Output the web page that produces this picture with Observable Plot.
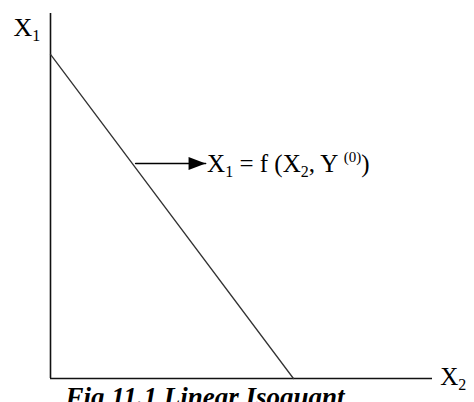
<!DOCTYPE html>
<html>
<head>
<meta charset="utf-8">
<script src="https://cdn.jsdelivr.net/npm/d3@7"></script>
<script src="https://cdn.jsdelivr.net/npm/@observablehq/plot@0.6"></script>
<style>
  html, body { margin: 0; padding: 0; background: #fff; }
  svg { display: block; }
</style>
</head>
<body>
<div id="chart"></div>
<script>
// Isoquant end points (X2 on horizontal axis, X1 on vertical axis)
const isoX2 = [0, 6.36];
const isoX1 = [8.88, 0];
// Arrow pointing to the isoquant label
const arrowX2 = [2.23, 4.06];
const arrowX1 = [5.89, 5.89];
// Texts
const yAxisLabel = "X1";
const xAxisLabel = "X2";
const curveLabel = "X1 = f (X2, Y (0))";
const captionText = "Fig 11.1 Linear Isoquant";

const iso = isoX2.map((x, i) => ({x, y: isoX1[i]}));
const arrow = arrowX2.map((x, i) => ({x, y: arrowX1[i]}));

const headSymbol = {
  draw(ctx) {
    ctx.moveTo(0, 0);
    ctx.lineTo(-17, -6.5);
    ctx.lineTo(-17, 6.5);
    ctx.closePath();
  }
};

const serif = "'Liberation Serif', 'Times New Roman', serif";

const chart = Plot.plot({
  width: 474,
  height: 402,
  marginLeft: 50,
  marginRight: 42,
  marginTop: 13,
  marginBottom: 24,
  x: {domain: [0, 10], axis: null},
  y: {domain: [0, 10], axis: null},
  style: {background: "#fff"},
  marks: [
    Plot.ruleX([0], {stroke: "#111", strokeWidth: 1.6}),
    Plot.ruleY([0], {stroke: "#111", strokeWidth: 1.6}),
    Plot.line(iso, {x: "x", y: "y", stroke: "#333", strokeWidth: 1.3}),
    Plot.line(arrow, {x: "x", y: "y", stroke: "#000", strokeWidth: 1.6}),
    Plot.dot([arrow[1]], {x: "x", y: "y", symbol: headSymbol, fill: "#000", stroke: "none", r: 5}),
    Plot.text([yAxisLabel], {x: -0.97, y: 9.6, text: d => d, textAnchor: "start", fontSize: 26, fontFamily: serif, fill: "#000"}),
    Plot.text([xAxisLabel], {x: 10.2, y: 0.04, text: d => d, textAnchor: "start", fontSize: 25, fontFamily: serif, fill: "#000"}),
    Plot.text([curveLabel], {x: 4.1, y: 5.89, text: d => d, textAnchor: "start", fontSize: 25, fontFamily: serif, fill: "#000"}),
    Plot.text([captionText], {x: 0.39, y: -0.51, text: d => d, textAnchor: "start", fontSize: 27, fontFamily: serif, fontWeight: "bold", fontStyle: "italic", fill: "#000"})
  ]
});

// Rich text: subscripts / superscripts
const richParts = {
  [yAxisLabel]: [{t: "X"}, {t: "1", sub: true}],
  [xAxisLabel]: [{t: "X"}, {t: "2", sub: true}],
  [curveLabel]: [{t: "X"}, {t: "1", sub: true}, {t: " = f (X"}, {t: "2", sub: true}, {t: ", Y "}, {t: "(0)", sup: true}, {t: ")"}]
};
d3.select(chart).selectAll("text").each(function() {
  const parts = richParts[this.textContent];
  if (!parts) return;
  const el = d3.select(this);
  el.text(null);
  let shift = 0;
  parts.forEach(p => {
    const target = p.sub ? 5 : p.sup ? -10 : 0;
    const ts = el.append("tspan").text(p.t);
    if (target - shift !== 0) ts.attr("dy", target - shift);
    if (p.sub) ts.attr("font-size", 16);
    if (p.sup) ts.attr("font-size", 15);
    shift = target;
  });
});

document.getElementById("chart").appendChild(chart);
</script>
</body>
</html>
